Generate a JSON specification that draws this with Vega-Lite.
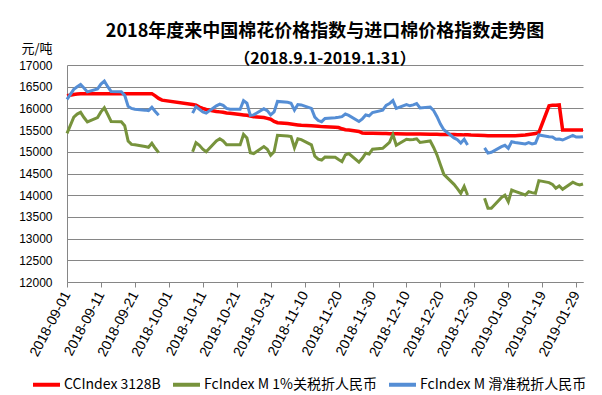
{
  "$schema": "https://vega.github.io/schema/vega-lite/v6.json",
  "width": 516,
  "height": 217,
  "autosize": {"type": "none"},
  "padding": {"left": 67, "top": 65, "right": 19, "bottom": 113},
  "background": "white",
  "title": {
    "text": "2018年度来中国棉花价格指数与进口棉价格指数走势图",
    "subtitle": "（2018.9.1-2019.1.31）",
    "anchor": "middle",
    "font": "Noto Sans CJK SC",
    "fontSize": 18,
    "fontWeight": "bold",
    "color": "black",
    "subtitleFont": "Noto Sans CJK SC",
    "subtitleFontSize": 16,
    "subtitleFontWeight": "bold",
    "subtitleColor": "black",
    "offset": -25,
    "subtitlePadding": 10
  },
  "datasets": {
    "red": [
      {"d":"2018-09-01","v":16290},{"d":"2018-09-03","v":16320},{"d":"2018-09-04","v":16330},{"d":"2018-09-05","v":16340},{"d":"2018-09-06","v":16340},{"d":"2018-09-07","v":16340},{"d":"2018-09-10","v":16340},{"d":"2018-09-11","v":16340},{"d":"2018-09-12","v":16340},{"d":"2018-09-13","v":16340},{"d":"2018-09-14","v":16340},{"d":"2018-09-17","v":16340},{"d":"2018-09-18","v":16340},{"d":"2018-09-19","v":16340},{"d":"2018-09-20","v":16340},{"d":"2018-09-21","v":16340},{"d":"2018-09-25","v":16340},{"d":"2018-09-26","v":16340},{"d":"2018-09-27","v":16290},{"d":"2018-09-28","v":16230},{"d":"2018-09-29","v":16190},
      {"d":"2018-10-08","v":16090},{"d":"2018-10-09","v":16075},{"d":"2018-10-10","v":16030},{"d":"2018-10-11","v":16000},{"d":"2018-10-12","v":15975},{"d":"2018-10-15","v":15930},{"d":"2018-10-16","v":15920},{"d":"2018-10-17","v":15910},{"d":"2018-10-18","v":15895},{"d":"2018-10-19","v":15887},{"d":"2018-10-22","v":15860},{"d":"2018-10-23","v":15850},{"d":"2018-10-24","v":15840},{"d":"2018-10-25","v":15825},{"d":"2018-10-26","v":15810},{"d":"2018-10-29","v":15790},{"d":"2018-10-30","v":15770},{"d":"2018-10-31","v":15750},
      {"d":"2018-11-01","v":15700},{"d":"2018-11-02","v":15670},{"d":"2018-11-05","v":15650},{"d":"2018-11-06","v":15640},{"d":"2018-11-07","v":15630},{"d":"2018-11-08","v":15620},{"d":"2018-11-09","v":15610},{"d":"2018-11-12","v":15600},{"d":"2018-11-13","v":15595},{"d":"2018-11-14","v":15590},{"d":"2018-11-15","v":15580},{"d":"2018-11-16","v":15575},{"d":"2018-11-19","v":15565},{"d":"2018-11-20","v":15560},{"d":"2018-11-21","v":15530},{"d":"2018-11-22","v":15510},{"d":"2018-11-23","v":15500},{"d":"2018-11-26","v":15470},{"d":"2018-11-27","v":15430},{"d":"2018-11-28","v":15425},{"d":"2018-11-29","v":15425},{"d":"2018-11-30","v":15425},
      {"d":"2018-12-03","v":15420},{"d":"2018-12-04","v":15420},{"d":"2018-12-05","v":15415},{"d":"2018-12-06","v":15415},{"d":"2018-12-07","v":15415},{"d":"2018-12-10","v":15410},{"d":"2018-12-11","v":15410},{"d":"2018-12-12","v":15410},{"d":"2018-12-13","v":15410},{"d":"2018-12-14","v":15410},{"d":"2018-12-17","v":15405},{"d":"2018-12-18","v":15405},{"d":"2018-12-19","v":15405},{"d":"2018-12-20","v":15400},{"d":"2018-12-21","v":15400},{"d":"2018-12-24","v":15400},{"d":"2018-12-25","v":15395},{"d":"2018-12-26","v":15395},{"d":"2018-12-27","v":15390},{"d":"2018-12-28","v":15390},{"d":"2018-12-29","v":15385},
      {"d":"2019-01-02","v":15375},{"d":"2019-01-03","v":15372},{"d":"2019-01-04","v":15370},{"d":"2019-01-07","v":15370},{"d":"2019-01-08","v":15370},{"d":"2019-01-09","v":15370},{"d":"2019-01-10","v":15370},{"d":"2019-01-11","v":15372},{"d":"2019-01-14","v":15385},{"d":"2019-01-15","v":15400},{"d":"2019-01-16","v":15410},{"d":"2019-01-17","v":15420},{"d":"2019-01-18","v":15450},{"d":"2019-01-21","v":16060},{"d":"2019-01-22","v":16070},{"d":"2019-01-23","v":16075},{"d":"2019-01-24","v":16080},{"d":"2019-01-25","v":15500},{"d":"2019-01-28","v":15500},{"d":"2019-01-29","v":15500},{"d":"2019-01-30","v":15500},{"d":"2019-01-31","v":15500}
    ],
    "green": [
      {"d":"2018-09-01","g":1,"v":15426},{"d":"2018-09-03","g":1,"v":15800},{"d":"2018-09-04","g":1,"v":15870},{"d":"2018-09-05","g":1,"v":15910},{"d":"2018-09-06","g":1,"v":15790},{"d":"2018-09-07","g":1,"v":15690},{"d":"2018-09-10","g":1,"v":15790},{"d":"2018-09-11","g":1,"v":15920},{"d":"2018-09-12","g":1,"v":16016},{"d":"2018-09-13","g":1,"v":15860},{"d":"2018-09-14","g":1,"v":15700},{"d":"2018-09-17","g":1,"v":15694},{"d":"2018-09-18","g":1,"v":15600},{"d":"2018-09-19","g":1,"v":15250},{"d":"2018-09-20","g":1,"v":15170},{"d":"2018-09-21","g":1,"v":15160},{"d":"2018-09-24","g":1,"v":15120},{"d":"2018-09-25","g":1,"v":15104},{"d":"2018-09-26","g":1,"v":15196},{"d":"2018-09-27","g":1,"v":15081},{"d":"2018-09-28","g":1,"v":14979},
      {"d":"2018-10-08","g":2,"v":15000},{"d":"2018-10-09","g":2,"v":15210},{"d":"2018-10-10","g":2,"v":15150},{"d":"2018-10-11","g":2,"v":15060},{"d":"2018-10-12","g":2,"v":15000},{"d":"2018-10-15","g":2,"v":15250},{"d":"2018-10-16","g":2,"v":15300},{"d":"2018-10-17","g":2,"v":15250},{"d":"2018-10-18","g":2,"v":15160},{"d":"2018-10-19","g":2,"v":15160},{"d":"2018-10-22","g":2,"v":15160},{"d":"2018-10-23","g":2,"v":15400},{"d":"2018-10-24","g":2,"v":15320},{"d":"2018-10-25","g":2,"v":14980},{"d":"2018-10-26","g":2,"v":14960},{"d":"2018-10-29","g":2,"v":15120},{"d":"2018-10-30","g":2,"v":15060},{"d":"2018-10-31","g":2,"v":14920},
      {"d":"2018-11-01","g":2,"v":15000},{"d":"2018-11-02","g":2,"v":15380},{"d":"2018-11-05","g":2,"v":15364},{"d":"2018-11-06","g":2,"v":15350},{"d":"2018-11-07","g":2,"v":15090},{"d":"2018-11-08","g":2,"v":15300},{"d":"2018-11-09","g":2,"v":15280},{"d":"2018-11-12","g":2,"v":15160},{"d":"2018-11-13","g":2,"v":14900},{"d":"2018-11-14","g":2,"v":14830},{"d":"2018-11-15","g":2,"v":14811},{"d":"2018-11-16","g":2,"v":14880},{"d":"2018-11-19","g":2,"v":14873},{"d":"2018-11-20","g":2,"v":14820},{"d":"2018-11-21","g":2,"v":14772},{"d":"2018-11-22","g":2,"v":14930},{"d":"2018-11-23","g":2,"v":14960},{"d":"2018-11-26","g":2,"v":14760},{"d":"2018-11-27","g":2,"v":14850},{"d":"2018-11-28","g":2,"v":14966},{"d":"2018-11-29","g":2,"v":14950},{"d":"2018-11-30","g":2,"v":15060},
      {"d":"2018-12-03","g":2,"v":15080},{"d":"2018-12-04","g":2,"v":15150},{"d":"2018-12-05","g":2,"v":15220},{"d":"2018-12-06","g":2,"v":15400},{"d":"2018-12-07","g":2,"v":15150},{"d":"2018-12-10","g":2,"v":15290},{"d":"2018-12-11","g":2,"v":15280},{"d":"2018-12-12","g":2,"v":15285},{"d":"2018-12-13","g":2,"v":15300},{"d":"2018-12-14","g":2,"v":15215},{"d":"2018-12-17","g":2,"v":15250},{"d":"2018-12-18","g":2,"v":15100},{"d":"2018-12-19","g":2,"v":14926},{"d":"2018-12-20","g":2,"v":14700},{"d":"2018-12-21","g":2,"v":14480},{"d":"2018-12-24","g":2,"v":14250},{"d":"2018-12-25","g":2,"v":14150},{"d":"2018-12-26","g":2,"v":14044},{"d":"2018-12-27","g":2,"v":14200},{"d":"2018-12-28","g":2,"v":14005},
      {"d":"2019-01-02","g":3,"v":13930},{"d":"2019-01-03","g":3,"v":13700},{"d":"2019-01-04","g":3,"v":13700},{"d":"2019-01-07","g":3,"v":13950},{"d":"2019-01-08","g":3,"v":14000},{"d":"2019-01-09","g":3,"v":13851},{"d":"2019-01-10","g":3,"v":14120},{"d":"2019-01-11","g":3,"v":14090},{"d":"2019-01-14","g":3,"v":14005},{"d":"2019-01-15","g":3,"v":14082},{"d":"2019-01-16","g":3,"v":14060},{"d":"2019-01-17","g":3,"v":14044},{"d":"2019-01-18","g":3,"v":14336},{"d":"2019-01-21","g":3,"v":14290},{"d":"2019-01-22","g":3,"v":14250},{"d":"2019-01-23","g":3,"v":14159},{"d":"2019-01-24","g":3,"v":14212},{"d":"2019-01-25","g":3,"v":14136},{"d":"2019-01-28","g":3,"v":14300},{"d":"2019-01-29","g":3,"v":14260},{"d":"2019-01-30","g":3,"v":14235},{"d":"2019-01-31","g":3,"v":14258}
    ],
    "blue": [
      {"d":"2018-09-01","g":1,"v":16210},{"d":"2018-09-03","g":1,"v":16440},{"d":"2018-09-04","g":1,"v":16500},{"d":"2018-09-05","g":1,"v":16550},{"d":"2018-09-06","g":1,"v":16470},{"d":"2018-09-07","g":1,"v":16380},{"d":"2018-09-10","g":1,"v":16450},{"d":"2018-09-11","g":1,"v":16560},{"d":"2018-09-12","g":1,"v":16630},{"d":"2018-09-13","g":1,"v":16500},{"d":"2018-09-14","g":1,"v":16390},{"d":"2018-09-17","g":1,"v":16385},{"d":"2018-09-18","g":1,"v":16300},{"d":"2018-09-19","g":1,"v":16050},{"d":"2018-09-20","g":1,"v":16000},{"d":"2018-09-21","g":1,"v":15980},{"d":"2018-09-24","g":1,"v":15960},{"d":"2018-09-25","g":1,"v":15950},{"d":"2018-09-26","g":1,"v":16025},{"d":"2018-09-27","g":1,"v":15930},{"d":"2018-09-28","g":1,"v":15840},
      {"d":"2018-10-08","g":2,"v":15890},{"d":"2018-10-09","g":2,"v":16040},{"d":"2018-10-10","g":2,"v":15980},{"d":"2018-10-11","g":2,"v":15920},{"d":"2018-10-12","g":2,"v":15890},{"d":"2018-10-15","g":2,"v":16060},{"d":"2018-10-16","g":2,"v":16100},{"d":"2018-10-17","g":2,"v":16070},{"d":"2018-10-18","g":2,"v":16000},{"d":"2018-10-19","g":2,"v":15980},{"d":"2018-10-22","g":2,"v":15980},{"d":"2018-10-23","g":2,"v":16180},{"d":"2018-10-24","g":2,"v":16120},{"d":"2018-10-25","g":2,"v":15840},{"d":"2018-10-26","g":2,"v":15850},{"d":"2018-10-29","g":2,"v":15990},{"d":"2018-10-30","g":2,"v":15950},{"d":"2018-10-31","g":2,"v":15850},
      {"d":"2018-11-01","g":2,"v":15920},{"d":"2018-11-02","g":2,"v":16160},{"d":"2018-11-05","g":2,"v":16140},{"d":"2018-11-06","g":2,"v":16120},{"d":"2018-11-07","g":2,"v":15960},{"d":"2018-11-08","g":2,"v":16090},{"d":"2018-11-09","g":2,"v":16080},{"d":"2018-11-12","g":2,"v":16000},{"d":"2018-11-13","g":2,"v":15800},{"d":"2018-11-14","g":2,"v":15720},{"d":"2018-11-15","g":2,"v":15694},{"d":"2018-11-16","g":2,"v":15770},{"d":"2018-11-19","g":2,"v":15786},{"d":"2018-11-20","g":2,"v":15795},{"d":"2018-11-21","g":2,"v":15809},{"d":"2018-11-22","g":2,"v":15870},{"d":"2018-11-23","g":2,"v":15840},{"d":"2018-11-26","g":2,"v":15700},{"d":"2018-11-27","g":2,"v":15760},{"d":"2018-11-28","g":2,"v":15848},{"d":"2018-11-29","g":2,"v":15830},{"d":"2018-11-30","g":2,"v":15905},
      {"d":"2018-12-03","g":2,"v":15960},{"d":"2018-12-04","g":2,"v":16070},{"d":"2018-12-05","g":2,"v":16110},{"d":"2018-12-06","g":2,"v":16180},{"d":"2018-12-07","g":2,"v":16000},{"d":"2018-12-10","g":2,"v":16090},{"d":"2018-12-11","g":2,"v":16060},{"d":"2018-12-12","g":2,"v":16080},{"d":"2018-12-13","g":2,"v":16110},{"d":"2018-12-14","g":2,"v":16010},{"d":"2018-12-17","g":2,"v":16030},{"d":"2018-12-18","g":2,"v":15950},{"d":"2018-12-19","g":2,"v":15809},{"d":"2018-12-20","g":2,"v":15640},{"d":"2018-12-21","g":2,"v":15510},{"d":"2018-12-24","g":2,"v":15320},{"d":"2018-12-25","g":2,"v":15280},{"d":"2018-12-26","g":2,"v":15200},{"d":"2018-12-27","g":2,"v":15288},{"d":"2018-12-28","g":2,"v":15157},
      {"d":"2019-01-02","g":3,"v":15090},{"d":"2019-01-03","g":3,"v":14970},{"d":"2019-01-04","g":3,"v":14990},{"d":"2019-01-07","g":3,"v":15120},{"d":"2019-01-08","g":3,"v":15150},{"d":"2019-01-09","g":3,"v":15081},{"d":"2019-01-10","g":3,"v":15233},{"d":"2019-01-11","g":3,"v":15215},{"d":"2019-01-14","g":3,"v":15180},{"d":"2019-01-15","g":3,"v":15210},{"d":"2019-01-16","g":3,"v":15180},{"d":"2019-01-17","g":3,"v":15200},{"d":"2019-01-18","g":3,"v":15387},{"d":"2019-01-21","g":3,"v":15348},{"d":"2019-01-22","g":3,"v":15340},{"d":"2019-01-23","g":3,"v":15288},{"d":"2019-01-24","g":3,"v":15295},{"d":"2019-01-25","g":3,"v":15272},{"d":"2019-01-28","g":3,"v":15380},{"d":"2019-01-29","g":3,"v":15340},{"d":"2019-01-30","g":3,"v":15340},{"d":"2019-01-31","g":3,"v":15348}
    ]
  },
  "encoding": {
    "x": {
      "field": "d",
      "type": "temporal",
      "scale": {
        "type": "utc",
        "nice": false,
        "domain": [
          {"year": 2018, "month": 9, "date": 1, "utc": true},
          {"year": 2019, "month": 1, "date": 31, "utc": true}
        ]
      },
      "axis": {
        "title": null,
        "labelExpr": "utcFormat(datum.value, '%Y-%m-%d')",
        "values": [
          {"year": 2018, "month": 9, "date": 1, "utc": true},
          {"year": 2018, "month": 9, "date": 11, "utc": true},
          {"year": 2018, "month": 9, "date": 21, "utc": true},
          {"year": 2018, "month": 10, "date": 1, "utc": true},
          {"year": 2018, "month": 10, "date": 11, "utc": true},
          {"year": 2018, "month": 10, "date": 21, "utc": true},
          {"year": 2018, "month": 10, "date": 31, "utc": true},
          {"year": 2018, "month": 11, "date": 10, "utc": true},
          {"year": 2018, "month": 11, "date": 20, "utc": true},
          {"year": 2018, "month": 11, "date": 30, "utc": true},
          {"year": 2018, "month": 12, "date": 10, "utc": true},
          {"year": 2018, "month": 12, "date": 20, "utc": true},
          {"year": 2018, "month": 12, "date": 30, "utc": true},
          {"year": 2019, "month": 1, "date": 9, "utc": true},
          {"year": 2019, "month": 1, "date": 19, "utc": true},
          {"year": 2019, "month": 1, "date": 29, "utc": true}
        ],
        "labelAngle": -62,
        "labelFont": "Liberation Sans",
        "labelFontSize": 14,
        "labelColor": "black",
        "labelPadding": 5,
        "labelOverlap": false,
        "labelFlush": false,
        "labelBound": false,
        "domainColor": "#868686",
        "tickColor": "#868686",
        "tickSize": 5,
        "grid": false
      }
    },
    "y": {
      "field": "v",
      "type": "quantitative",
      "scale": {"domain": [12000, 17000], "nice": false, "zero": false},
      "axis": {
        "title": "元/吨",
        "titleAngle": 0,
        "titleAlign": "left",
        "titleBaseline": "middle",
        "titleX": -46,
        "titleY": -17,
        "titleFont": "Noto Sans CJK SC",
        "titleFontSize": 13,
        "titleFontWeight": "normal",
        "titleColor": "black",
        "format": "d",
        "values": [12000, 12500, 13000, 13500, 14000, 14500, 15000, 15500, 16000, 16500, 17000],
        "labelFont": "Liberation Sans",
        "labelFontSize": 12,
        "labelColor": "black",
        "labelPadding": 15,
        "ticks": false,
        "domainColor": "#868686",
        "grid": true,
        "gridColor": "#868686",
        "gridWidth": 1
      }
    }
  },
  "layer": [
    {
      "data": {"name": "red"},
      "mark": {"type": "line", "strokeWidth": 3.5},
      "encoding": {
        "color": {
          "datum": "CCIndex 3128B",
          "type": "nominal",
          "scale": {
            "domain": ["CCIndex 3128B", "FcIndex M 1%关税折人民币", "FcIndex M 滑准税折人民币"],
            "range": ["#FF0000", "#77933C", "#558ED5"]
          },
          "legend": {
            "title": null,
            "orient": "none",
            "direction": "horizontal",
            "legendX": -36,
            "legendY": 304,
            "symbolType": "stroke",
            "symbolSize": 729,
            "symbolStrokeWidth": 4,
            "labelFont": "Noto Sans CJK SC",
            "labelFontSize": 14,
            "labelColor": "black",
            "labelLimit": 300,
            "labelOffset": 2,
            "columnPadding": 4
          }
        }
      }
    },
    {
      "data": {"name": "green"},
      "mark": {"type": "line", "strokeWidth": 3},
      "encoding": {
        "color": {"datum": "FcIndex M 1%关税折人民币", "type": "nominal"},
        "detail": {"field": "g", "type": "nominal"}
      }
    },
    {
      "data": {"name": "blue"},
      "mark": {"type": "line", "strokeWidth": 3},
      "encoding": {
        "color": {"datum": "FcIndex M 滑准税折人民币", "type": "nominal"},
        "detail": {"field": "g", "type": "nominal"}
      }
    }
  ],
  "config": {
    "view": {"stroke": null}
  }
}
